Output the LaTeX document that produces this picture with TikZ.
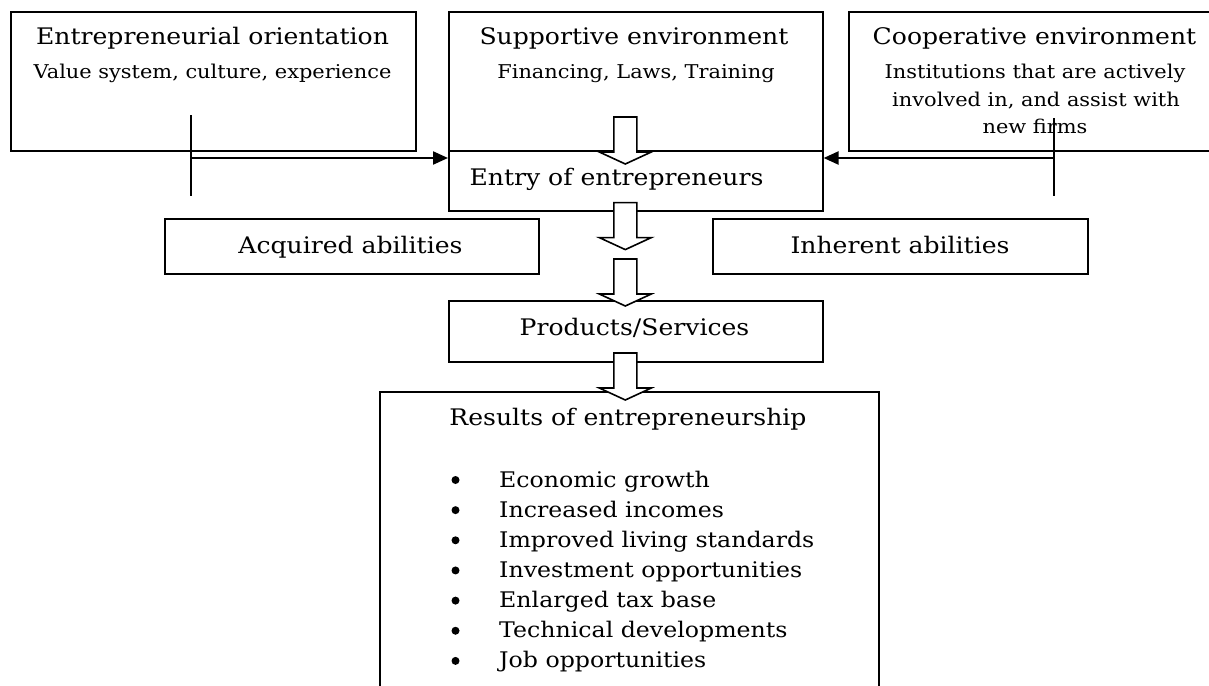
\documentclass[tikz,border=0pt]{standalone}
\usepackage{fontspec}
\setmainfont{DejaVu Serif}[FakeStretch=1.1]
\usetikzlibrary{arrows.meta}
\begin{document}
\begin{tikzpicture}[x=1pt,y=-1pt,
  box/.style={draw, line width=1.6pt, rectangle, inner sep=0pt, anchor=north west},
  big/.style={font=\fontsize{22.8}{27}\selectfont, anchor=base, inner sep=0pt},
  small/.style={font=\fontsize{19}{23}\selectfont, anchor=base, inner sep=0pt},
  item/.style={font=\fontsize{21.5}{27}\selectfont, anchor=base west, inner sep=0pt},
  dot/.style={circle, fill, inner sep=0pt, minimum size=8pt},
  feed/.style={line width=2.2pt, -{Triangle[length=15pt,width=13pt]}},
  tick/.style={line width=1.6pt},
  blockarrow/.style={draw, fill=white, line width=1.6pt, line join=miter},
  hollow/.pic={\path[blockarrow] (-11.5,0) -- (-11.5,35) -- (-26,35) -- (0,47)
     -- (26,35) -- (11.5,35) -- (11.5,0) -- cycle;},
]
\useasboundingbox (0,0) rectangle (1209,685);
\clip (0,0) rectangle (1209,685);

% boxes
\node[box, minimum width=405pt, minimum height=139pt] (orient)  at (10,11)  {};
\node[box, minimum width=374pt, minimum height=139pt] (support) at (448,11) {};
\node[box, minimum width=380pt, minimum height=139pt] (coop)    at (848,11) {};
\node[box, minimum width=374pt, minimum height=60pt]  (entry)   at (448,150) {};
\node[box, minimum width=374pt, minimum height=55pt]  (acq)     at (164,218) {};
\node[box, minimum width=375pt, minimum height=55pt]  (inh)     at (712,218) {};
\node[box, minimum width=374pt, minimum height=61pt]  (prod)    at (448,300) {};
\node[box, minimum width=499pt, minimum height=320pt] (res)     at (379,391) {};

% side influences feeding the entry box
\coordinate (ltop) at (191,115);
\coordinate (lbot) at (191,196);
\coordinate (lmid) at (191,158);
\coordinate (rtop) at (1054,118);
\coordinate (rbot) at (1054,196);
\coordinate (rmid) at (1054,158);
\draw[tick] (ltop) -- (lbot);
\draw[tick] (rtop) -- (rbot);
\draw[feed] (lmid) -- (lmid -| entry.west);
\draw[feed] (rmid) -- (rmid -| entry.east);

% hollow block arrows down the main chain
\coordinate (a1) at ([xshift=-10.5pt,yshift=33pt]entry.north);
\coordinate (a2) at ([xshift=-10.5pt,yshift=9pt]entry.south);
\coordinate (a3) at ([xshift=-10.5pt,yshift=41pt]prod.north);
\coordinate (a4) at ([xshift=-10.5pt,yshift=38pt]res.north -| prod.north);
\pic at (a1) {hollow};
\pic at (a2) {hollow};
\pic at (a3) {hollow};
\pic at (a4) {hollow};

% texts
\node[big]   (t1)  at (212.5,45) {Entrepreneurial orientation};
\node[small] (t1b) at (212.5,78) {Value system, culture, experience};
\node[big]   (t2)  at (634,45)   {Supportive environment};
\node[small] (t2b) at (636,78)   {Financing, Laws, Training};
\node[big]   (t3)  at (1034.5,45) {Cooperative environment};
\node[small] (t3b) at (1035,78)  {Institutions that are actively};
\node[small] (t3c) at (1036,106) {involved in, and assist with};
\node[small] (t3d) at (1035,133) {new firms};
\node[big]   (t4)  at (616.5,185) {Entry of entrepreneurs};
\node[big]   (t5)  at (350.5,253) {Acquired abilities};
\node[big]   (t6)  at (900,253)  {Inherent abilities};
\node[big]   (t7)  at (634.5,335) {Products/Services};
\node[big]   (t8)  at (628,425)  {Results of entrepreneurship};

% list of results
\foreach \txt [count=\i] in {Economic growth, Increased incomes,
    Improved living standards, Investment opportunities,
    Enlarged tax base, Technical developments, Job opportunities}{
  \node[dot] (b\i) at (455.5,{480+30.15*(\i-1)}) {};
  \node[item] (r\i) at (499,{487+30.15*(\i-1)}) {\txt};
}
\end{tikzpicture}
\end{document}
